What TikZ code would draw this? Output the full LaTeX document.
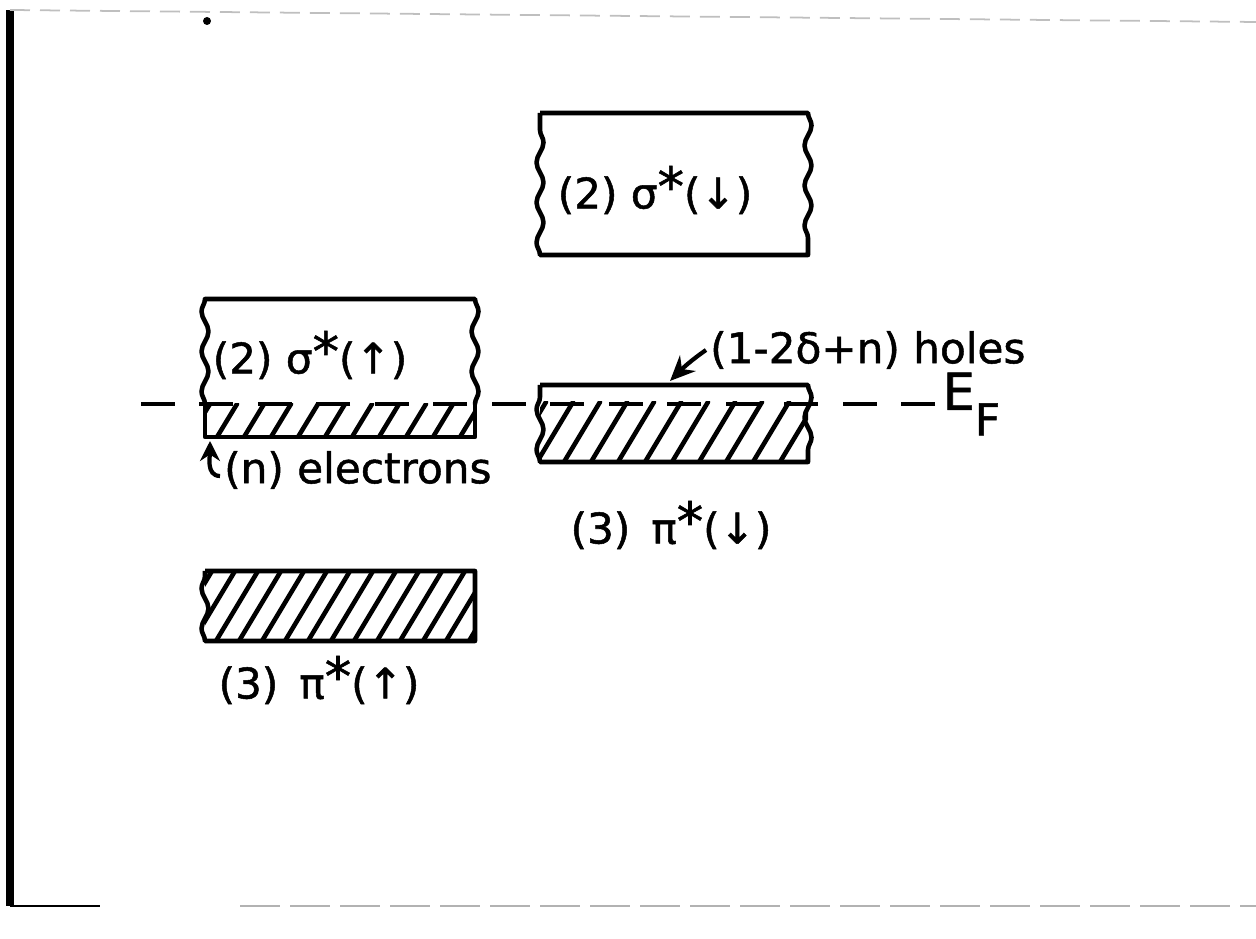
\documentclass[tikz,border=0pt]{standalone}
\usepackage{fontspec}
\setmainfont{DejaVu Sans}
\newfontfamily\letterfont[FakeBold=1.2]{DejaVu Sans}
\usepackage{tikz}
\usetikzlibrary{positioning,arrows.meta,calc,decorations.pathmorphing}
\newcommand{\bstar}{\raisebox{0.08em}{\fontsize{15}{15}\selectfont *}}

\begin{document}
\begin{tikzpicture}[
    band/.style={line width=1.3pt, line join=round},
    wavy/.style={decoration={snake, segment length=4mm, amplitude=0.35mm}},
    hatch/.style={line width=1.3pt, line cap=round},
    fermi/.style={line width=1.3pt, dash pattern=on 3.4mm off 2.45mm},
    lbl/.style={font=\letterfont\fontsize{12}{14}\selectfont, inner sep=1pt},
    arr/.style={-{Stealth[length=2.5mm, width=2.2mm]}, line width=1.2pt}
]
    \useasboundingbox (0,0) rectangle (12.56,9.38);

    % page frame
    \draw[line width=2pt] (0.10,9.28) -- (0.10,0.32);
    \draw[line width=0.8pt] (0.10,0.32) -- (1.00,0.32);
    \draw[gray!60, line width=0.6pt, dash pattern=on 4mm off 1mm] (2.40,0.32) -- (12.56,0.32);
    \draw[gray!50, line width=0.5pt, dash pattern=on 2mm off 1mm] (0.10,9.28) -- (12.56,9.16);
    \fill (2.07,9.17) circle (0.04);

    % (2) sigma* down
    \draw[band] (5.40,8.25) -- (8.08,8.25) decorate[wavy]{-- (8.08,6.83)}
        -- (5.40,6.83) decorate[wavy]{-- (5.40,8.25)};
    \node[lbl] (sdn) at (6.55,7.48) {(2) σ\bstar(↓)};

    % (2) sigma* up, filled up to E_F
    \begin{scope}
        \clip (2.05,5.01) rectangle (4.75,5.34);
        \foreach \x in {1.90,2.17,...,4.80}
            \draw[hatch] (\x,5.01) -- ++(0.20,0.33);
    \end{scope}
    \draw[band] (2.05,5.34) decorate[wavy]{-- (2.05,6.39)} -- (4.75,6.39)
        decorate[wavy]{-- (4.75,5.34)};
    \draw[band] (2.05,5.34) -- (2.05,5.01) -- (4.75,5.01) -- (4.75,5.34);
    \node[lbl] (sup) at (3.10,5.83) {(2) σ\bstar(↑)};

    % (3) pi* down, holes above E_F
    \begin{scope}
        \clip (5.40,4.76) rectangle (8.08,5.36);
        \foreach \x in {5.10,5.37,...,8.20}
            \draw[hatch] (\x,4.76) -- ++(0.36,0.60);
    \end{scope}
    \draw[band] (5.40,5.53) -- (8.08,5.53) decorate[wavy]{-- (8.08,4.76)}
        -- (5.40,4.76) decorate[wavy]{-- (5.40,5.53)};
    \node[lbl] (pdn) at (6.71,4.13) {(3)\hspace{0.5em}π\bstar(↓)};

    % (3) pi* up, full
    \begin{scope}
        \clip (2.05,2.97) rectangle (4.75,3.67);
        \foreach \x in {1.70,1.93,...,4.80}
            \draw[hatch] (\x,2.97) -- ++(0.42,0.70);
    \end{scope}
    \draw[band] (2.05,3.67) -- (4.75,3.67) -- (4.75,2.97) -- (2.05,2.97)
        decorate[wavy]{-- (2.05,3.67)};
    \node[lbl] (pup) at (3.19,2.58) {(3)\hspace{0.5em}π\bstar(↑)};

    % Fermi level
    \coordinate (fl) at (1.40,5.34);
    \coordinate (fr) at (9.35,5.34);
    \draw[fermi] (fr) -- (fl);
    \node[anchor=west, inner sep=0pt] (ef) at (9.42,5.34)
        {\letterfont\fontsize{14.5}{16}\selectfont E\raisebox{-0.5em}{\fontsize{12.5}{14}\selectfont F}};

    % holes / electrons
    \node[lbl, anchor=west] (holes) at (7.06,5.88) {(1-2δ+n) holes};
    \coordinate (htip) at (6.70,5.57);
    \draw[arr] (holes.west) to[out=215, in=45] (htip);

    \node[lbl, anchor=west] (elec) at (2.20,4.68) {(n) electrons};
    \coordinate (etip) at (2.10,4.97);
    \draw[arr, -{Stealth[length=2mm, width=2mm]}] (2.20,4.62) to[out=180, in=-90] (etip);
\end{tikzpicture}
\end{document}
